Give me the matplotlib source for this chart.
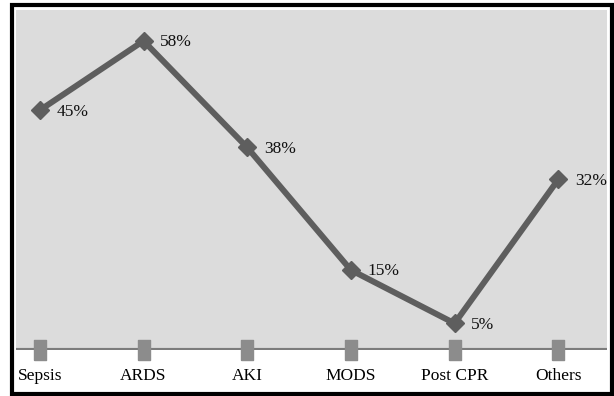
import matplotlib.pyplot as plt
from matplotlib.patches import Rectangle

# data
categories = ['Sepsis', 'ARDS', 'AKI', 'MODS', 'Post CPR', 'Others']
percent = [45, 58, 38, 15, 5, 32]
baseline = [0, 0, 0, 0, 0, 0]

plt.rcParams['font.family'] = ['Liberation Serif', 'DejaVu Serif']

fig = plt.figure(figsize=(6.14, 3.96), dpi=100)
ax = fig.add_axes([16 / 614, 46 / 396, 591 / 614, 340 / 396])
ax.set_facecolor('#dcdcdc')

x = list(range(len(categories)))

# zero series along the axis
ax.axhline(0, color='#7c7c7c', lw=3, zorder=2)
rect_marker = [(-1, -1.5), (1, -1.5), (1, 1.5), (-1, 1.5), (-1, -1.5)]
ax.plot(x, baseline, ls='none', marker=rect_marker, ms=14, color='#8c8c8c',
        zorder=3, clip_on=False)

# main series
ax.plot(x, percent, color='#5e5e5e', lw=4.3, marker='D', ms=9,
        zorder=4, clip_on=False)
for xi, v in zip(x, percent):
    ax.annotate(f'{v}%', (xi, v), xytext=(12, -1), textcoords='offset points',
                ha='left', va='center', fontsize=12.5, color='#111111')

ax.set_xlim(-0.23, 5.47)
ax.set_ylim(0, 63.8)
ax.set_yticks([])
ax.set_xticks(x)
ax.set_xticklabels(categories, fontsize=12.5)
ax.tick_params(axis='x', length=0, pad=13)
for s in ax.spines.values():
    s.set_visible(False)

# black frame around the whole picture
fig.patches.append(Rectangle((11.5 / 614, 2.5 / 396), 600 / 614, 389 / 396,
                             transform=fig.transFigure, fill=False,
                             edgecolor='black', lw=3, zorder=10))

fig.savefig('out.png', dpi=100)
